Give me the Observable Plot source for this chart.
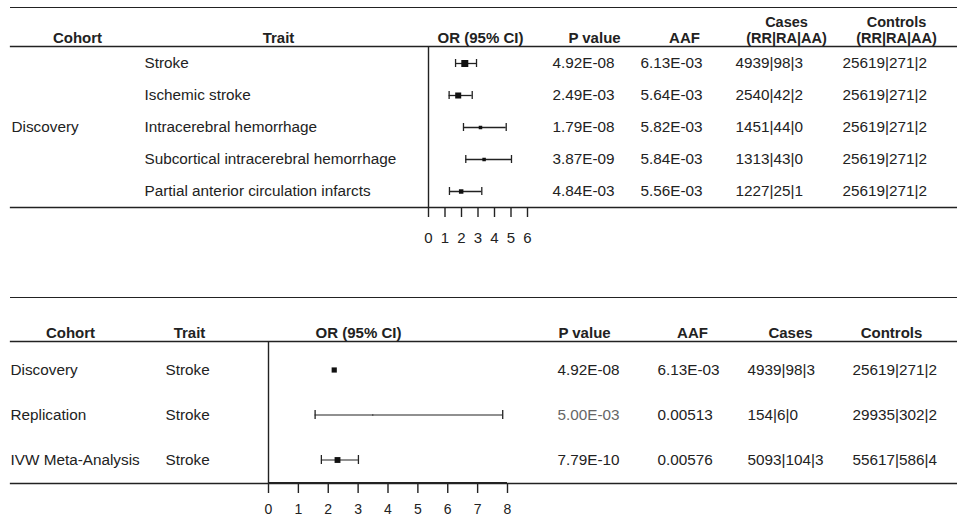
<!DOCTYPE html>
<html><head><meta charset="utf-8">
<script src="https://cdn.jsdelivr.net/npm/d3@7"></script>
<script src="https://cdn.jsdelivr.net/npm/@observablehq/plot@0.6"></script>
<style>
body{margin:0;background:#fff;font-family:"Liberation Sans",Arial,sans-serif;}
#wrap{position:relative;width:957px;height:516px;overflow:hidden;}
.panel{position:absolute;left:0;}
.topline{position:absolute;left:10px;width:947px;height:0;border-top:1.3px solid #222;}
svg [aria-label="x-axis tick"] path{stroke-width:1.4px;}
</style></head><body>
<div id="wrap">
<div id="p1" class="panel" style="top:0"></div>
<div id="p2" class="panel" style="top:290px"></div>
<div class="topline" style="top:7px"></div>
<div class="topline" style="top:297px"></div>
</div>
<script>
// ---------- Top panel data (Discovery, by trait) ----------
const discCohort = "Discovery";
const discTraits = ["Stroke","Ischemic stroke","Intracerebral hemorrhage","Subcortical intracerebral hemorrhage","Partial anterior circulation infarcts"];
const discOR = [2.2, 1.8, 3.15, 3.37, 1.98];
const discLo = [1.64, 1.25, 2.12, 2.26, 1.27];
const discHi = [2.91, 2.65, 4.71, 5.03, 3.23];
const discWeight = [1, 0.74, 0.25, 0.25, 0.41];
const discP = ["4.92E-08","2.49E-03","1.79E-08","3.87E-09","4.84E-03"];
const discAAF = ["6.13E-03","5.64E-03","5.82E-03","5.84E-03","5.56E-03"];
const discCases = ["4939|98|3","2540|42|2","1451|44|0","1313|43|0","1227|25|1"];
const discControls = ["25619|271|2","25619|271|2","25619|271|2","25619|271|2","25619|271|2"];
const topTicks = [0,1,2,3,4,5,6];
const topHeaders = ["Cohort","Trait","OR (95% CI)","P value","AAF"];
const topHeaders2 = [["Cases","(RR|RA|AA)"],["Controls","(RR|RA|AA)"]];

// ---------- Bottom panel data (Stroke, by cohort) ----------
const metaCohorts = ["Discovery","Replication","IVW Meta-Analysis"];
const metaTraits = ["Stroke","Stroke","Stroke"];
const metaOR = [2.2, 3.49, 2.31];
const metaLo = [null, 1.56, 1.77];
const metaHi = [null, 7.84, 3.01];
const metaWeight = [0.55, 0.03, 0.7];
const metaP = ["4.92E-08","5.00E-03","7.79E-10"];
const metaAAF = ["6.13E-03","0.00513","0.00576"];
const metaCases = ["4939|98|3","154|6|0","5093|104|3"];
const metaControls = ["25619|271|2","29935|302|2","55617|586|4"];
const bottomTicks = [0,1,2,3,4,5,6,7,8];
const bottomHeaders = ["Cohort","Trait","OR (95% CI)","P value","AAF","Cases","Controls"];

// ---------- layout (pixels) ----------
const FONT = '"Liberation Sans", Arial, sans-serif';
const INK = "#222";
const topHeaderX = [77, 278, 480, 594, 684];
const topHeader2X = [786, 896];
const topColX = {trait: 144, p: 552, aaf: 640, cases: 735, controls: 842};
const botHeaderX = [70, 189, 358, 584, 692, 790, 891];
const botColX = {cohort: 10, trait: 165, p: 557, aaf: 657, cases: 747, controls: 852};
const ML = 10;

const topRows = discTraits.map((t, i) => ({trait: t, or: discOR[i], lo: discLo[i], hi: discHi[i], w: discWeight[i],
  p: discP[i], aaf: discAAF[i], cases: discCases[i], controls: discControls[i]}));
const botRows = metaCohorts.map((c, i) => ({cohort: c, trait: metaTraits[i], or: metaOR[i], lo: metaLo[i], hi: metaHi[i], w: metaWeight[i],
  p: metaP[i], aaf: metaAAF[i], cases: metaCases[i], controls: metaControls[i]}));

const colText = (rows, key, yKey, x, extra = {}) => Plot.text(rows, {y: yKey, text: key, frameAnchor: "left", dx: x - ML,
  textAnchor: "start", fontSize: 15.3, fill: INK, ...extra});
const hdr = (h, x, dy, fs = 15) => Plot.text([h], {text: d => d, frameAnchor: "top-left", dx: x - ML, dy,
  lineAnchor: "bottom", textAnchor: "middle", fontWeight: "bold", fontSize: fs, fill: INK});
const headerMarks = (hdrs, xs) => hdrs.map((h, i) => hdr(h, xs[i], -4));
const header2Marks = (hdrs, xs) => hdrs.flatMap((pair, i) => [hdr(pair[0], xs[i], -20, 14.5), hdr(pair[1], xs[i], -4, 14.5)]);

// ---------- Top panel ----------
const ciTop = topRows;
const p1 = Plot.plot({
  width: 957, height: 260, marginTop: 46, marginBottom: 53, marginLeft: ML, marginRight: 0,
  style: {fontFamily: FONT, fontSize: "15px", color: INK, background: "transparent", overflow: "visible"},
  x: {domain: [0, 6], range: [428, 527], ticks: topTicks, tickFormat: "d", tickSize: 10, tickPadding: 15, label: null},
  y: {domain: discTraits, axis: null, padding: 0},
  r: {type: "sqrt", domain: [0, 1], range: [0, 3.95]},
  marks: [
    Plot.frame({anchor: "top", stroke: INK, strokeWidth: 1.3}),
    Plot.frame({anchor: "bottom", stroke: INK, strokeWidth: 1.3}),
    Plot.ruleX([0], {stroke: INK, strokeWidth: 1.4}),
    Plot.ruleY(ciTop, {y: "trait", x1: "lo", x2: "hi", stroke: INK, strokeWidth: 1.3}),
    Plot.tickX(ciTop, {x: "lo", y: "trait", insetTop: 12, insetBottom: 12, stroke: INK, strokeWidth: 1.3}),
    Plot.tickX(ciTop, {x: "hi", y: "trait", insetTop: 12, insetBottom: 12, stroke: INK, strokeWidth: 1.3}),
    Plot.dot(topRows, {x: "or", y: "trait", r: "w", symbol: "square", fill: "#111", stroke: null}),
    ...headerMarks(topHeaders, topHeaderX),
    ...header2Marks(topHeaders2, topHeader2X),
    Plot.text([discCohort], {text: d => d, y: () => discTraits[2], frameAnchor: "left", dx: 1, textAnchor: "start", fontSize: 15.3, fill: INK}),
    colText(topRows, "trait", "trait", topColX.trait),
    colText(topRows, "p", "trait", topColX.p),
    colText(topRows, "aaf", "trait", topColX.aaf),
    colText(topRows, "cases", "trait", topColX.cases),
    colText(topRows, "controls", "trait", topColX.controls)
  ]
});
document.getElementById("p1").append(p1);

// ---------- Bottom panel ----------
const ciBot = botRows.filter(d => d.lo != null);
const p2 = Plot.plot({
  width: 957, height: 226, marginTop: 51, marginBottom: 33, marginLeft: ML, marginRight: 0,
  style: {fontFamily: FONT, fontSize: "14px", color: INK, background: "transparent", overflow: "visible"},
  x: {domain: [0, 8], range: [268, 507], ticks: bottomTicks, tickFormat: "d", tickSize: 10, tickPadding: 11, label: null},
  y: {domain: metaCohorts, axis: null, padding: 0, insetTop: 5},
  r: {type: "sqrt", domain: [0, 1], range: [0, 3.95]},
  marks: [
    Plot.frame({anchor: "top", stroke: INK, strokeWidth: 1.3}),
    Plot.frame({anchor: "bottom", stroke: INK, strokeWidth: 1.3}),
    Plot.ruleY([metaCohorts[metaCohorts.length - 1]], {y: d => d, x1: 0, x2: 8, dy: 23, stroke: INK, strokeWidth: 2.2}),
    Plot.ruleX([0], {stroke: INK, strokeWidth: 1.4}),
    Plot.ruleY(ciBot, {y: "cohort", x1: "lo", x2: "hi", stroke: INK, strokeWidth: 1.2}),
    Plot.tickX(ciBot, {x: "lo", y: "cohort", insetTop: 18, insetBottom: 18, stroke: INK, strokeWidth: 1.3}),
    Plot.tickX(ciBot, {x: "hi", y: "cohort", insetTop: 18, insetBottom: 18, stroke: INK, strokeWidth: 1.3}),
    Plot.dot(botRows, {x: "or", y: "cohort", r: "w", symbol: "square", fill: "#111", stroke: null}),
    ...headerMarks(bottomHeaders, botHeaderX),
    colText(botRows, "cohort", "cohort", botColX.cohort),
    colText(botRows, "trait", "cohort", botColX.trait),
    colText(botRows, "p", "cohort", botColX.p, {fill: d => d.cohort === "Replication" ? "#666666" : INK}),
    colText(botRows, "aaf", "cohort", botColX.aaf),
    colText(botRows, "cases", "cohort", botColX.cases),
    colText(botRows, "controls", "cohort", botColX.controls)
  ]
});
document.getElementById("p2").append(p2);
</script>
</body></html>
